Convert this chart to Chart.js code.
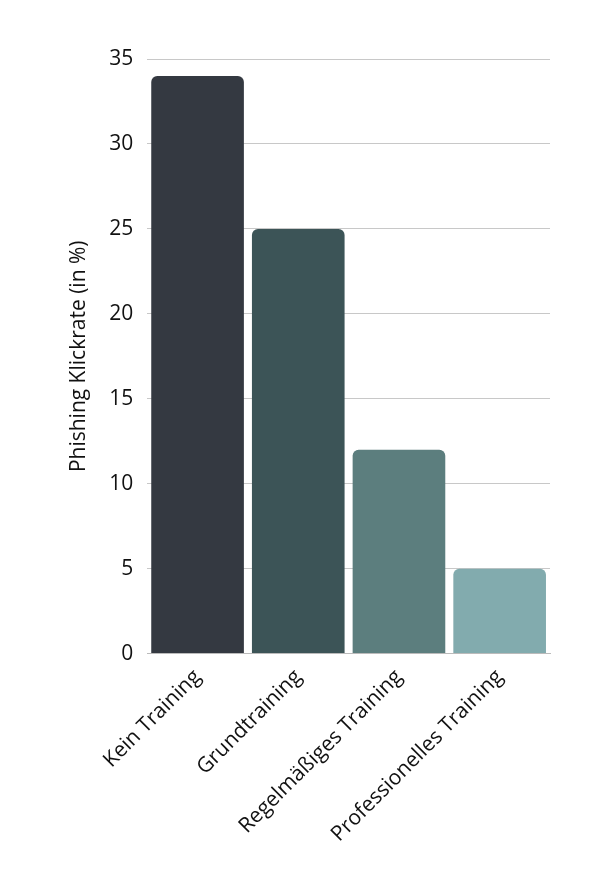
<!DOCTYPE html>
<html>
<head>
<meta charset="utf-8">
<script src="https://cdn.jsdelivr.net/npm/chart.js@4"></script>
<style>
  html, body { margin: 0; background: #fff; }
  #wrap { width: 590px; height: 880px; }
</style>
</head>
<body>
<div id="wrap"><canvas id="chart"></canvas></div>
<script>
const categories = ['Kein Training', 'Grundtraining', 'Regelmäßiges Training', 'Professionelles Training'];
const clickRates = [34, 25, 12, 5];
const barColors = ['#343941', '#3c5457', '#5c7e7e', '#82abae'];

const font = { family: '"Open Sans", sans-serif', size: 21 };

new Chart(document.getElementById('chart'), {
    type: 'bar',
    data: {
        labels: categories,
        datasets: [{
            data: clickRates,
            backgroundColor: barColors,
            borderRadius: { topLeft: 6, topRight: 6 },
            borderSkipped: 'bottom',
            barPercentage: 0.92,
            categoryPercentage: 1,
        }],
    },
    options: {
        responsive: true,
        maintainAspectRatio: false,
        animation: false,
        layout: { padding: { top: 59, right: 40, bottom: 30, left: 62 } },
        plugins: { legend: { display: false }, tooltip: { enabled: false } },
        scales: {
            x: {
                grid: { display: false },
                border: { color: '#bbbbbb' },
                ticks: { color: '#111', font: font, maxRotation: 45, minRotation: 45 },
            },
            y: {
                min: 0,
                max: 35,
                ticks: { stepSize: 5, color: '#111', font: font, padding: 14 },
                grid: { color: '#c8c8c8', drawTicks: false },
                border: { display: false },
                title: { display: true, text: 'Phishing Klickrate (in %)', color: '#111', font: font },
            },
        },
    },
});
</script>
</body>
</html>
